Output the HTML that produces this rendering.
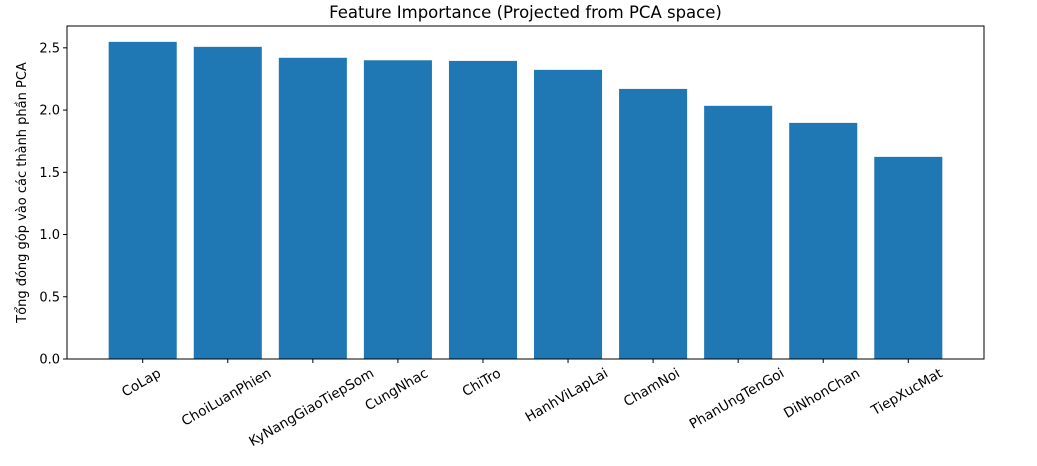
<!DOCTYPE html>
<html><head><meta charset="utf-8"><style>
body{margin:0;background:#fff}
svg text{font-family:"DejaVu Sans","Liberation Sans",sans-serif;fill:#000}
</style></head><body>
<svg id="c" width="1037" height="461"></svg>
<script>
const categories=["CoLap","ChoiLuanPhien","KyNangGiaoTiepSom","CungNhac","ChiTro","HanhViLapLai","ChamNoi","PhanUngTenGoi","DiNhonChan","TiepXucMat"];
const values=[2.548,2.508,2.42,2.40,2.395,2.323,2.17,2.034,1.897,1.624];
const yTicks=[0,0.5,1,1.5,2,2.5];
const yTickLabels=["0.0","0.5","1.0","1.5","2.0","2.5"];
const NS="http://www.w3.org/2000/svg";
const svg=document.getElementById('c');
const L=67,R=984,T=26,B=359;
const yMax=Math.max(...values)*1.05;
const y=v=>B-(v/yMax)*(B-T);
const n=categories.length;
const xMin=-0.4-0.05*(n-0.2), xMax=n-1+0.4+0.05*(n-0.2);
const x=i=>L+(i-xMin)/(xMax-xMin)*(R-L);
function mk(tag,attrs,parent){const e=document.createElementNS(NS,tag);for(const k in attrs)e.setAttribute(k,attrs[k]);(parent||svg).appendChild(e);return e;}
values.forEach((v,i)=>{
 const w=0.8*(R-L)/(xMax-xMin);
 const r=mk('rect',{x:x(i)-w/2,y:y(v),width:w,height:B-y(v),fill:'#1f77b4'});
 
 
});
const frame=mk('rect',{x:L,y:T,width:R-L,height:B-T,fill:'none',stroke:'#000','stroke-width':1});


yTicks.forEach((t,i)=>{
 const tk=mk('line',{x1:L-4,x2:L,y1:y(t),y2:y(t),stroke:'#000'});
 
 
 const tx=mk('text',{x:L-7,y:y(t)+4.5,'text-anchor':'end','font-size':13});
 tx.textContent=yTickLabels[i];
 
 
});
categories.forEach((c,i)=>{
 const tk=mk('line',{x1:x(i),x2:x(i),y1:B,y2:B+4,stroke:'#000'});
 
 
 const tx=mk('text',{'text-anchor':'middle','font-size':13.6});
 tx.textContent=c;
 
 
 const w=tx.getComputedTextLength(),h=13.6;
 const bh=w*0.5+h*0.866;
 const cy=366+bh/2;
 tx.setAttribute('transform','translate('+(x(i)-1.5)+','+cy+') rotate(-30)');
 tx.setAttribute('y',4.5);
});
const title=mk('text',{x:(L+R)/2,y:18,'text-anchor':'middle','font-size':16.5});
title.textContent='Feature Importance (Projected from PCA space)';


const yl=mk('text',{transform:'translate(26,'+((T+B)/2)+') rotate(-90)','text-anchor':'middle','font-size':13});
yl.textContent='Tổng đóng góp vào các thành phần PCA';


const xl=mk('text',{x:525,y:473,'text-anchor':'middle','font-size':13});
xl.textContent='Đặc trưng gốc';


</script>
</body></html>
